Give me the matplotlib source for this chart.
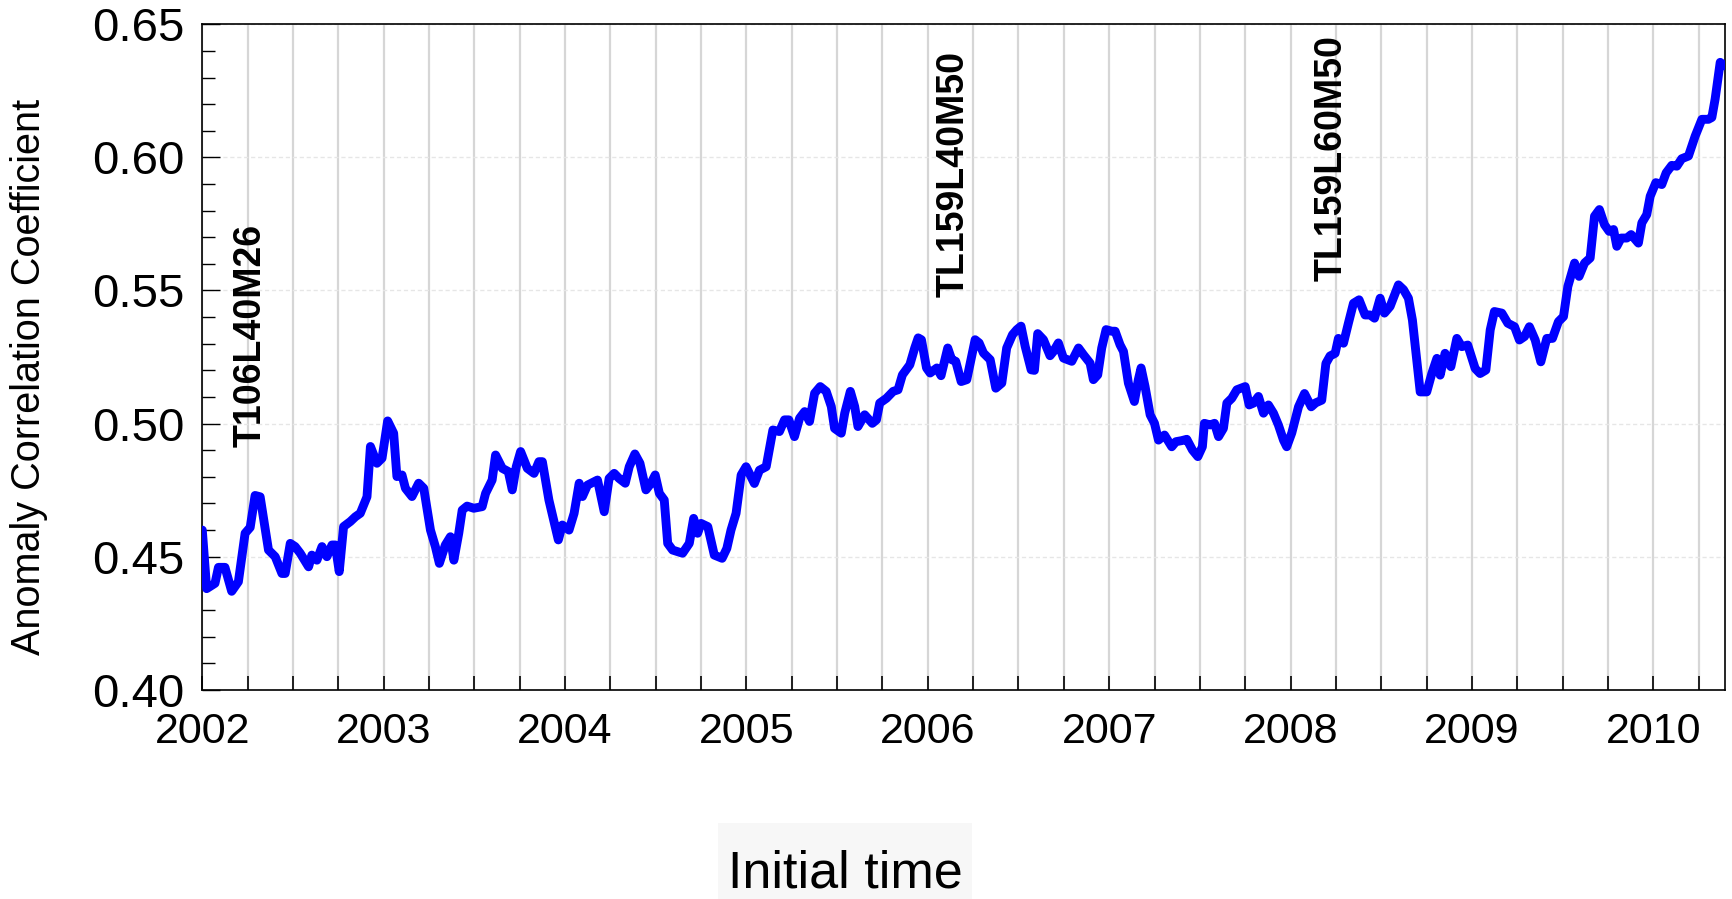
import matplotlib
matplotlib.use("Agg")
import matplotlib.pyplot as plt
from matplotlib.patches import Rectangle
from matplotlib.ticker import MultipleLocator, FixedLocator
import numpy as np

# ---- data (decimal year of initial time, anomaly correlation coefficient) ----
time = [2002.000, 2002.024, 2002.070, 2002.089, 2002.125, 2002.162, 2002.199, 2002.236, 2002.264, 2002.291,
        2002.319, 2002.365, 2002.402, 2002.439, 2002.457, 2002.485, 2002.512, 2002.540, 2002.586, 2002.604,
        2002.632, 2002.660, 2002.687, 2002.715, 2002.733, 2002.755, 2002.779, 2002.816, 2002.844, 2002.871,
        2002.908, 2002.927, 2002.963, 2002.991, 2003.022, 2003.055, 2003.073, 2003.101, 2003.120, 2003.156,
        2003.193, 2003.221, 2003.258, 2003.285, 2003.307, 2003.340, 2003.368, 2003.387, 2003.414, 2003.433,
        2003.460, 2003.497, 2003.543, 2003.562, 2003.598, 2003.617, 2003.654, 2003.687, 2003.709, 2003.731,
        2003.755, 2003.792, 2003.829, 2003.856, 2003.875, 2003.911, 2003.963, 2003.985, 2004.022, 2004.050,
        2004.078, 2004.096, 2004.124, 2004.179, 2004.216, 2004.243, 2004.271, 2004.298, 2004.332, 2004.354,
        2004.385, 2004.413, 2004.446, 2004.474, 2004.497, 2004.520, 2004.547, 2004.566, 2004.593, 2004.621,
        2004.648, 2004.685, 2004.709, 2004.731, 2004.750, 2004.787, 2004.823, 2004.866, 2004.892, 2004.915,
        2004.943, 2004.971, 2004.998, 2005.044, 2005.072, 2005.109, 2005.146, 2005.182, 2005.210, 2005.234,
        2005.265, 2005.293, 2005.321, 2005.348, 2005.376, 2005.407, 2005.440, 2005.468, 2005.486, 2005.523,
        2005.542, 2005.573, 2005.597, 2005.615, 2005.652, 2005.694, 2005.717, 2005.735, 2005.772, 2005.809,
        2005.836, 2005.860, 2005.901, 2005.928, 2005.947, 2005.965, 2005.993, 2006.013, 2006.050, 2006.073,
        2006.110, 2006.132, 2006.154, 2006.184, 2006.215, 2006.261, 2006.283, 2006.307, 2006.344, 2006.375,
        2006.408, 2006.435, 2006.467, 2006.491, 2006.514, 2006.537, 2006.570, 2006.588, 2006.606, 2006.638,
        2006.674, 2006.693, 2006.720, 2006.748, 2006.794, 2006.831, 2006.858, 2006.895, 2006.913, 2006.937,
        2006.959, 2006.983, 2007.014, 2007.033, 2007.060, 2007.079, 2007.106, 2007.139, 2007.161, 2007.176,
        2007.198, 2007.226, 2007.250, 2007.272, 2007.305, 2007.345, 2007.368, 2007.400, 2007.428, 2007.459,
        2007.489, 2007.514, 2007.525, 2007.557, 2007.581, 2007.603, 2007.630, 2007.649, 2007.676, 2007.704,
        2007.750, 2007.772, 2007.796, 2007.823, 2007.851, 2007.878, 2007.906, 2007.933, 2007.961, 2007.979,
        2008.007, 2008.044, 2008.077, 2008.114, 2008.139, 2008.172, 2008.195, 2008.218, 2008.246, 2008.264,
        2008.292, 2008.319, 2008.347, 2008.378, 2008.411, 2008.439, 2008.463, 2008.494, 2008.518, 2008.549,
        2008.595, 2008.623, 2008.650, 2008.672, 2008.696, 2008.715, 2008.751, 2008.779, 2008.807, 2008.825,
        2008.852, 2008.884, 2008.917, 2008.944, 2008.977, 2009.018, 2009.045, 2009.077, 2009.101, 2009.124,
        2009.165, 2009.198, 2009.235, 2009.262, 2009.290, 2009.317, 2009.349, 2009.380, 2009.413, 2009.444,
        2009.477, 2009.505, 2009.529, 2009.566, 2009.591, 2009.621, 2009.652, 2009.676, 2009.703, 2009.731,
        2009.757, 2009.781, 2009.799, 2009.823, 2009.854, 2009.878, 2009.918, 2009.937, 2009.964, 2009.983,
        2010.014, 2010.047, 2010.071, 2010.102, 2010.130, 2010.157, 2010.194, 2010.231, 2010.268, 2010.304,
        2010.323, 2010.341, 2010.369, 2010.393]

acc = [0.4600, 0.4380, 0.4400, 0.4460, 0.4460, 0.4370, 0.4406, 0.4588, 0.4610, 0.4730,
       0.4725, 0.4525, 0.4500, 0.4437, 0.4437, 0.4550, 0.4538, 0.4513, 0.4462, 0.4506,
       0.4487, 0.4538, 0.4500, 0.4544, 0.4544, 0.4444, 0.4613, 0.4632, 0.4650, 0.4663,
       0.4725, 0.4914, 0.4851, 0.4870, 0.5010, 0.4964, 0.4801, 0.4807, 0.4757, 0.4726,
       0.4776, 0.4757, 0.4600, 0.4538, 0.4475, 0.4544, 0.4575, 0.4487, 0.4588, 0.4675,
       0.4690, 0.4682, 0.4688, 0.4738, 0.4788, 0.4882, 0.4832, 0.4820, 0.4751, 0.4838,
       0.4895, 0.4832, 0.4813, 0.4857, 0.4857, 0.4713, 0.4563, 0.4619, 0.4600, 0.4663,
       0.4776, 0.4726, 0.4769, 0.4788, 0.4669, 0.4794, 0.4813, 0.4794, 0.4776, 0.4838,
       0.4886, 0.4851, 0.4751, 0.4776, 0.4807, 0.4738, 0.4713, 0.4550, 0.4525, 0.4519,
       0.4513, 0.4550, 0.4644, 0.4588, 0.4625, 0.4613, 0.4506, 0.4494, 0.4531, 0.4600,
       0.4663, 0.4807, 0.4838, 0.4775, 0.4825, 0.4838, 0.4976, 0.4970, 0.5014, 0.5014,
       0.4951, 0.5020, 0.5045, 0.5008, 0.5114, 0.5139, 0.5121, 0.5064, 0.4982, 0.4964,
       0.5039, 0.5121, 0.5064, 0.4989, 0.5033, 0.5001, 0.5014, 0.5077, 0.5095, 0.5121,
       0.5127, 0.5183, 0.5221, 0.5284, 0.5322, 0.5315, 0.5209, 0.5190, 0.5209, 0.5180,
       0.5284, 0.5240, 0.5234, 0.5158, 0.5165, 0.5315, 0.5303, 0.5265, 0.5240, 0.5133,
       0.5152, 0.5284, 0.5334, 0.5353, 0.5366, 0.5290, 0.5202, 0.5200, 0.5338, 0.5315,
       0.5255, 0.5271, 0.5303, 0.5246, 0.5234, 0.5284, 0.5259, 0.5227, 0.5165, 0.5183,
       0.5284, 0.5353, 0.5347, 0.5347, 0.5296, 0.5271, 0.5152, 0.5083, 0.5165, 0.5209,
       0.5139, 0.5033, 0.5001, 0.4938, 0.4957, 0.4913, 0.4932, 0.4936, 0.4941, 0.4901,
       0.4876, 0.4913, 0.5001, 0.4995, 0.5001, 0.4951, 0.4982, 0.5077, 0.5095, 0.5127,
       0.5139, 0.5070, 0.5077, 0.5102, 0.5039, 0.5070, 0.5039, 0.4995, 0.4938, 0.4913,
       0.4965, 0.5063, 0.5113, 0.5063, 0.5078, 0.5088, 0.5226, 0.5254, 0.5264, 0.5320,
       0.5302, 0.5377, 0.5452, 0.5465, 0.5408, 0.5408, 0.5396, 0.5471, 0.5415, 0.5440,
       0.5521, 0.5503, 0.5471, 0.5389, 0.5239, 0.5119, 0.5119, 0.5188, 0.5245, 0.5182,
       0.5264, 0.5214, 0.5320, 0.5289, 0.5295, 0.5207, 0.5188, 0.5201, 0.5352, 0.5421,
       0.5415, 0.5377, 0.5364, 0.5314, 0.5327, 0.5364, 0.5314, 0.5232, 0.5320, 0.5320,
       0.5383, 0.5402, 0.5515, 0.5603, 0.5553, 0.5603, 0.5622, 0.5779, 0.5804, 0.5747,
       0.5722, 0.5729, 0.5666, 0.5697, 0.5697, 0.5710, 0.5678, 0.5754, 0.5785, 0.5854,
       0.5905, 0.5898, 0.5942, 0.5970, 0.5967, 0.5995, 0.6005, 0.6080, 0.6143, 0.6143,
       0.6150, 0.6219, 0.6357, 0.6344]

year_ticks = [2002, 2003, 2004, 2005, 2006, 2007, 2008, 2009, 2010]
year_labels = ['2002', '2003', '2004', '2005', '2006', '2007', '2008', '2009', '2010']
y_ticks = [0.40, 0.45, 0.50, 0.55, 0.60, 0.65]
model_labels = ['T106L40M26', 'TL159L40M50', 'TL159L60M50']
model_x = [2002.268, 2006.141, 2008.225]
model_y = [0.4913, 0.5477, 0.5536]

FONT = 'Liberation Sans'
plt.rcParams['font.family'] = [FONT, 'DejaVu Sans']

fig = plt.figure(figsize=(17.32, 8.99), dpi=100)
ax = fig.add_axes([0.1168, 0.2327, 0.9957 - 0.1168, 0.9730 - 0.2327])

ax.plot(time, acc, color='#0000ff', lw=6.4, solid_joinstyle='round',
        solid_capstyle='round', zorder=3)

ax.set_xlim(2002.0, 2010.393)
ax.set_ylim(0.40, 0.65)

# x ticks: years labelled, quarters as minor
ax.xaxis.set_major_locator(FixedLocator(year_ticks))
ax.set_xticklabels(year_labels)
quarters = [y + q for y in year_ticks for q in (0.25, 0.5, 0.75) if y + q < 2010.393]
ax.xaxis.set_minor_locator(FixedLocator(quarters))

ax.yaxis.set_major_locator(FixedLocator(y_ticks))
ax.set_yticklabels(['%.2f' % v for v in y_ticks])
ax.yaxis.set_minor_locator(MultipleLocator(0.01))

ax.tick_params(axis='x', which='both', direction='in', length=10, width=1.2,
               labelsize=31, pad=16, top=False, colors='black')
ax.tick_params(axis='y', which='major', direction='in', length=13, width=1.0,
               labelsize=34, pad=13, right=False)
ax.tick_params(axis='y', which='minor', direction='in', length=9, width=1.0, right=False)

ax.set_axisbelow(True)
ax.xaxis.grid(True, which='both', color='#d6d6d6', lw=1.6)
ax.yaxis.grid(True, which='major', color='#e6e6e6', lw=1.0, ls=(0, (3, 2)))

for s in ax.spines.values():
    s.set_color('black')
    s.set_linewidth(1.2)

for lab, x, y in zip(model_labels, model_x, model_y):
    ax.text(x, y, lab, rotation=90, ha='center', va='bottom', fontsize=27,
            fontweight='bold', color='black', zorder=4)

fig.text(29 / 1732, 1 - 377 / 899, 'Anomaly Correlation Coefficient', rotation=90,
         ha='center', va='center', fontsize=28.5, color='black')

# x-axis title in a light box
fig.patches.append(Rectangle((718 / 1732, 0), (972 - 718) / 1732, (899 - 823) / 899,
                             transform=fig.transFigure, facecolor='#f7f7f7',
                             edgecolor='none', zorder=0))
fig.text(845 / 1732, 1 - 887 / 899, 'Initial time', ha='center', va='baseline',
         fontsize=37.5, color='black', zorder=2)

fig.savefig('out.png', dpi=100)
